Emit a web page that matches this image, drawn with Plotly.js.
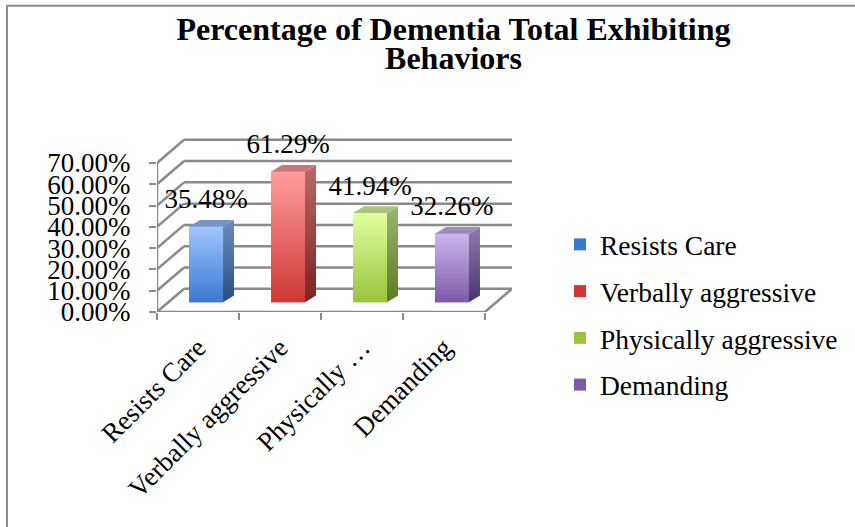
<!DOCTYPE html>
<html>
<head>
<meta charset="utf-8">
<script src="https://cdn.plot.ly/plotly-3.0.1.min.js"></script>
<style>
  html, body { margin: 0; padding: 0; background: #ffffff; }
  #chart { width: 855px; height: 527px; }
</style>
</head>
<body>
<div id="chart"></div>
<script>
// ---- data ----
const categories = ["Resists Care", "Verbally aggressive", "Physically aggressive", "Demanding"];
const tickLabels = ["Resists Care", "Verbally aggressive", "Physically \u2026", "Demanding"];
const values = [35.48, 61.29, 41.94, 32.26];
const yTicks = [0, 10, 20, 30, 40, 50, 60, 70];

// ---- colours per series: front top/bottom, side top/bottom, top face ----
const palette = [
  { front: ["#a0c5ff", "#3a79cf"], side: ["#6c8cbd", "#2b4d83"], top: "#7496cb" },
  { front: ["#ff9d9b", "#cf3834"], side: ["#b86a69", "#7a2220"], top: "#c87574" },
  { front: ["#e2ffa2", "#9bc33c"], side: ["#9db374", "#5c7a21"], top: "#aac47c" },
  { front: ["#ccb6ef", "#7d59a8"], side: ["#8e7bad", "#49336f"], top: "#9d8bbc" }
];

// ---- pseudo-3D geometry (axis units) ----
const X_MIN = -0.5, X_MAX = categories.length - 0.5;
const DEPTH_X = 0.33, DEPTH_Y = 10.9;          // back wall offset
const BAR_SHIFT = 0.098;                       // bars sit part-way into the floor
const BAR_W = 0.415, BAR_DX = 0.134, BAR_DY = 3.15, BAR_BASE = 4.55;
const LABEL_GAP = 11.8;

const GRID = "#8a8a8a";
const FONT = "Liberation Serif";

// ---- plot frame ----
const M = { l: 157, r: 343, t: 137, b: 215 };
const PW = 855 - M.l - M.r, PH = 527 - M.t - M.b;
const Y_MAX = PH / 2.129;

const shapes = [];
function seg(x0, y0, x1, y1) {
  shapes.push({ type: "line", xref: "x", yref: "y", x0: x0, y0: y0, x1: x1, y1: y1,
    line: { color: GRID, width: 2.5 }, layer: "below" });
}
// side wall diagonals + back wall gridlines
yTicks.forEach(v => {
  seg(X_MIN, v, X_MIN + DEPTH_X, v + DEPTH_Y);
  seg(X_MIN + DEPTH_X, v + DEPTH_Y, X_MAX + DEPTH_X, v + DEPTH_Y);
});
// front left edge, floor front edge, floor right edge
seg(X_MIN, 0, X_MIN, yTicks[yTicks.length - 1]);
seg(X_MIN, 0, X_MAX, 0);
seg(X_MAX, 0, X_MAX + DEPTH_X, DEPTH_Y);

// outer frame of the chart area
const px = v => (v - M.l) / PW, py = v => (527 - M.b - v) / PH;
shapes.push({ type: "rect", xref: "paper", yref: "paper",
  x0: px(7), x1: px(880), y0: py(5.7), y1: py(560),
  line: { color: "#8a8a8a", width: 2 }, fillcolor: "rgba(0,0,0,0)", layer: "below" });

const traces = [];
const barX = categories.map((_, i) => i + BAR_SHIFT);

// front faces as bars (these carry the legend, one legend group each)
categories.forEach((name, i) => {
  traces.push({
    type: "bar", name: name, legendgroup: "g" + i,
    x: [barX[i]], y: [values[i]], base: [BAR_BASE],
    width: [BAR_W], marker: { color: palette[i].front[1], line: { width: 0 } },
    hoverinfo: "skip", showlegend: true
  });
});

// shading for each bar: gradient front, side and top faces
categories.forEach((name, i) => {
  const xl = barX[i] - BAR_W / 2, xr = barX[i] + BAR_W / 2;
  const y0 = BAR_BASE, y1 = BAR_BASE + values[i];
  const c = palette[i];
  const common = { type: "scatter", mode: "lines", fill: "toself", line: { width: 0 },
    showlegend: false, hoverinfo: "skip", legendgroup: "g" + i };
  traces.push(Object.assign({}, common, {
    x: [xl, xr, xr, xl, xl], y: [y0, y0, y1, y1, y0],
    fillgradient: { type: "vertical", start: y0, stop: y1,
      colorscale: [[0, c.front[1]], [1, c.front[0]]] }
  }));
  traces.push(Object.assign({}, common, {
    x: [xr, xr + BAR_DX, xr + BAR_DX, xr, xr],
    y: [y0, y0 + BAR_DY, y1 + BAR_DY, y1, y0],
    fillgradient: { type: "vertical", start: y0, stop: y1 + BAR_DY,
      colorscale: [[0, c.side[1]], [1, c.side[0]]] }
  }));
  traces.push(Object.assign({}, common, {
    x: [xl, xr, xr + BAR_DX, xl + BAR_DX, xl],
    y: [y1, y1, y1 + BAR_DY, y1 + BAR_DY, y1],
    fillcolor: c.top
  }));
});

// value labels
traces.push({
  type: "scatter", mode: "text", showlegend: false, hoverinfo: "skip",
  x: barX, y: values.map(v => BAR_BASE + v + LABEL_GAP),
  text: values.map(v => v.toFixed(2) + "%"),
  textposition: "middle center", cliponaxis: false,
  textfont: { family: FONT, size: 27, color: "#000000" }
});

const big = s => "<span style='font-size:32px'>" + s + "</span>";

const layout = {
  width: 855, height: 527,
  margin: M,
  paper_bgcolor: "#ffffff", plot_bgcolor: "rgba(0,0,0,0)",
  showlegend: true,
  title: {
    text: "<b>" + big("Percentage of Dementia Total Exhibiting") + "<br>" + big("Behaviors") + "</b>",
    font: { family: FONT, size: 23, color: "#000000" },
    xref: "container", yref: "container",
    x: 453.5 / 855, xanchor: "center", y: 0.925, yanchor: "top"
  },
  xaxis: {
    range: [X_MIN, X_MAX + DEPTH_X], showgrid: false, zeroline: false, showline: false,
    tickmode: "array", tickvals: categories.map((_, i) => i), ticktext: tickLabels,
    ticks: "outside", ticklen: 8, tickcolor: "rgba(0,0,0,0)", tickangle: -45,
    tickfont: { family: FONT, size: 27, color: "#000000" },
    minor: { tickmode: "array", tickvals: categories.map((_, i) => i - 0.5).concat([X_MAX]),
      ticks: "outside", ticklen: 7, tickcolor: GRID, tickwidth: 2, showgrid: false },
    fixedrange: true
  },
  yaxis: {
    range: [0, Y_MAX], showgrid: false, zeroline: false, showline: false,
    tickmode: "array", tickvals: yTicks, ticktext: yTicks.map(v => v.toFixed(2) + "%"),
    ticks: "outside", ticklen: 7, tickcolor: GRID, tickwidth: 2,
    ticklabelstandoff: 13,
    tickfont: { family: FONT, size: 27, color: "#000000" },
    fixedrange: true
  },
  legend: {
    xanchor: "left", yanchor: "top",
    font: { family: FONT, size: 27.5, color: "#000000" },
    tracegroupgap: 8, bgcolor: "rgba(0,0,0,0)", traceorder: "grouped",
    maxheight: 300
  },
  shapes: shapes
};
// legend placed in paper units from pixel targets
layout.legend.x = (560 - M.l) / PW;
layout.legend.y = (527 - M.b - 220) / PH;

Plotly.newPlot("chart", traces, layout, { staticPlot: true, displayModeBar: false });
</script>
</body>
</html>
